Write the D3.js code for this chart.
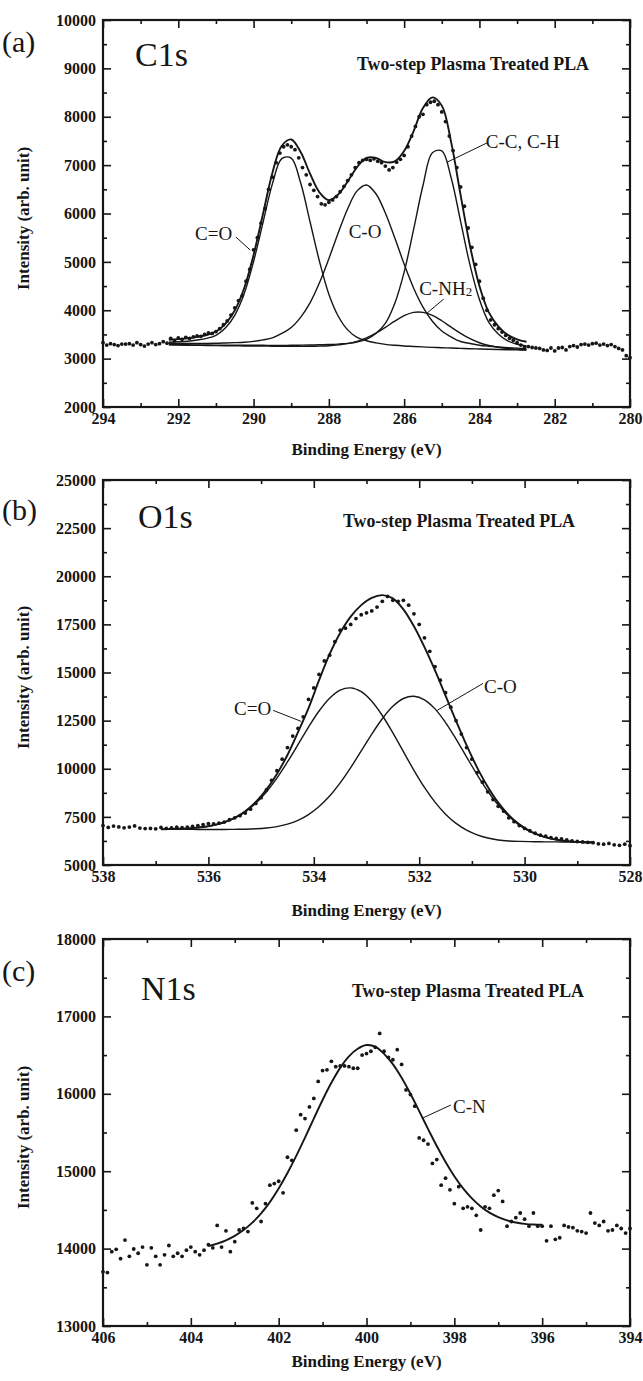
<!DOCTYPE html>
<html><head><meta charset="utf-8">
<script src="https://cdn.jsdelivr.net/npm/d3@7"></script>
<style>
body{margin:0;background:#fff}
svg{display:block}
text{font-family:"Liberation Serif","Times New Roman",serif;fill:#161616}
</style>
</head><body>
<svg id="chart" width="643" height="1381"></svg>
<script>
// ---------------- Panel (a) C1s ----------------
const c1sXTicks = [294,292,290,288,286,284,282,280];
const c1sXMinor = [293,291,289,287,285,283,281];
const c1sYTicks = [2000,3000,4000,5000,6000,7000,8000,9000,10000];
const c1sYMinor = [2500,3500,4500,5500,6500,7500,8500,9500];
const c1sFitE = [292.25,292.0,291.75,291.5,291.25,291.0,290.75,290.5,290.25,290.0,289.75,289.5,289.25,289.0,288.75,288.5,288.25,288.0,287.75,287.5,287.25,287.0,286.75,286.5,286.25,286.0,285.75,285.5,285.25,285.0,284.75,284.5,284.25,284.0,283.75,283.5,283.25,283.0,282.75];
const c1sEnvelope = [3390,3403,3418,3449,3488,3558,3719,3996,4454,5145,5988,6839,7400,7530,7270,6823,6438,6275,6395,6661,6960,7148,7151,7061,7077,7291,7700,8180,8400,8230,7470,6381,5329,4503,3956,3669,3491,3400,3349];
const c1sCdO = [3340,3348,3359,3384,3418,3482,3631,3895,4339,5007,5810,6612,7135,7144,6634,5829,5013,4331,3876,3594,3439,3369,3326,3295,3276,3262,3252,3242,3232,3225,3219,3212,3205,3200,3195,3190,3185,3180,3175];
const c1sCO = [3312,3313,3314,3316,3315,3317,3323,3330,3339,3356,3388,3430,3521,3644,3854,4154,4567,5065,5601,6099,6468,6590,6408,6012,5499,4954,4461,4066,3772,3570,3449,3354,3312,3277,3256,3240,3227,3217,3207];
const c1sCC = [3291,3289,3286,3284,3281,3279,3278,3277,3276,3275,3275,3273,3274,3276,3278,3281,3286,3291,3300,3315,3344,3400,3520,3729,4140,4788,5665,6579,7255,7294,6734,5838,4934,4223,3750,3511,3367,3297,3262];
const c1sCNH2 = [3284,3281,3278,3275,3272,3269,3267,3265,3262,3260,3259,3256,3255,3254,3254,3255,3259,3266,3284,3310,3357,3428,3527,3646,3774,3887,3955,3957,3894,3783,3650,3523,3412,3328,3271,3235,3210,3195,3182];
const c1sDots = [[294.0,3330],[293.9,3280],[293.8,3310],[293.7,3290],[293.6,3270],[293.5,3300],[293.4,3300],[293.3,3310],[293.2,3280],[293.1,3330],[293.0,3290],[292.9,3260],[292.8,3300],[292.7,3330],[292.6,3290],[292.5,3310],[292.4,3350],[292.3,3320],[292.2,3420],[292.1,3370],[292.0,3430],[291.9,3400],[291.8,3440],[291.7,3420],[291.6,3450],[291.5,3470],[291.4,3460],[291.3,3500],[291.2,3530],[291.1,3520],[291.0,3560],[290.9,3620],[290.8,3700],[290.7,3780],[290.6,3900],[290.5,4050],[290.4,4200],[290.3,4300],[290.2,4600],[290.1,4850],[290.0,5250],[289.9,5500],[289.8,5800],[289.7,6100],[289.6,6500],[289.5,6750],[289.4,7050],[289.3,7250],[289.2,7380],[289.1,7420],[289.0,7380],[288.9,7320],[288.8,7150],[288.7,6950],[288.6,6800],[288.5,6600],[288.4,6480],[288.3,6350],[288.2,6200],[288.1,6180],[288.0,6230],[287.9,6280],[287.8,6350],[287.7,6450],[287.6,6560],[287.5,6680],[287.4,6800],[287.3,6950],[287.2,7050],[287.1,7100],[287.0,7120],[286.9,7100],[286.8,7130],[286.7,7080],[286.6,7050],[286.5,6980],[286.4,6900],[286.3,6950],[286.2,7060],[286.1,7120],[286.0,7200],[285.9,7380],[285.8,7600],[285.7,7800],[285.6,8000],[285.5,8050],[285.4,8250],[285.3,8300],[285.2,8320],[285.1,8250],[285.0,8100],[284.9,7900],[284.8,7600],[284.7,7300],[284.6,6950],[284.5,6550],[284.4,6150],[284.3,5700],[284.2,5300],[284.1,4950],[284.0,4600],[283.9,4250],[283.8,4000],[283.7,3800],[283.6,3700],[283.5,3620],[283.4,3550],[283.3,3480],[283.2,3420],[283.1,3380],[283.0,3330],[282.9,3280],[282.8,3240],[282.7,3250],[282.6,3230],[282.5,3220],[282.4,3210],[282.3,3180],[282.2,3170],[282.1,3220],[282.0,3160],[281.9,3220],[281.8,3230],[281.7,3180],[281.6,3250],[281.5,3270],[281.4,3240],[281.3,3290],[281.2,3300],[281.1,3280],[281.0,3310],[280.9,3320],[280.8,3280],[280.7,3300],[280.6,3270],[280.5,3290],[280.4,3250],[280.3,3210],[280.2,3180],[280.1,3060],[280.0,3020]];

// ---------------- Panel (b) O1s ----------------
const o1sXTicks = [538,536,534,532,530,528];
const o1sXMinor = [537,535,533,531,529];
const o1sYTicks = [5000,7500,10000,12500,15000,17500,20000,22500,25000];
const o1sYMinor = [6250,8750,11250,13750,16250,18750,21250,23750];
const o1sFitE = [536.9,536.7,536.5,536.3,536.1,535.9,535.7,535.5,535.3,535.1,534.9,534.7,534.5,534.3,534.1,533.9,533.7,533.5,533.3,533.1,532.9,532.7,532.5,532.3,532.1,531.9,531.7,531.5,531.3,531.1,530.9,530.7,530.5,530.3,530.1,529.9,529.7,529.5,529.3,529.1,528.9,528.7];
const o1sEnvelope = [6858,6868,6886,6917,6972,7068,7220,7456,7798,8279,8918,9729,10715,11900,13150,14600,15950,17050,17900,18500,18880,19020,18850,18280,17400,16316,15106,13798,12480,11212,10061,9064,8239,7595,7110,6764,6526,6371,6273,6216,6185,6167];
const o1sCdO = [6858,6868,6886,6916,6971,7064,7212,7439,7763,8213,8796,9514,10352,11255,12167,12998,13662,14082,14200,14002,13506,12766,11863,10887,9920,9030,8264,7638,7160,6808,6563,6401,6300,6250,6225,6212,6205,6200,6198,6196,6195,6195];
const o1sCO = [6850,6850,6850,6849,6847,6847,6847,6852,6860,6881,6922,6995,7123,7321,7618,8034,8580,9263,10058,10924,11800,12600,13242,13650,13768,13582,13110,12400,11542,10608,9688,8843,8114,7527,7074,6746,6518,6367,6273,6216,6185,6167];
const o1sDots = [[538.0,7050],[537.9,6950],[537.8,7020],[537.7,6980],[537.6,6930],[537.5,6970],[537.4,7030],[537.3,6920],[537.2,6890],[537.1,6900],[537.0,6880],[536.9,6950],[536.8,6900],[536.7,6930],[536.6,6960],[536.5,6940],[536.4,6970],[536.3,7000],[536.2,7050],[536.1,7100],[536.0,7150],[535.9,7130],[535.8,7180],[535.7,7230],[535.6,7350],[535.5,7450],[535.4,7560],[535.3,7700],[535.2,7900],[535.1,8200],[535.0,8500],[534.9,8900],[534.8,9400],[534.7,9900],[534.6,10500],[534.5,11100],[534.4,11700],[534.3,12100],[534.2,12700],[534.1,13600],[534.0,14200],[533.9,14900],[533.8,15600],[533.7,15900],[533.6,16600],[533.5,17200],[533.4,17300],[533.3,17500],[533.2,17800],[533.1,18000],[533.0,18100],[532.9,18200],[532.8,18400],[532.7,18700],[532.6,18950],[532.5,18750],[532.4,18700],[532.3,18750],[532.2,18500],[532.1,18050],[532.0,17500],[531.9,16800],[531.8,16100],[531.7,15300],[531.6,14600],[531.5,13950],[531.4,13200],[531.3,12500],[531.2,11800],[531.1,11100],[531.0,10500],[530.9,9800],[530.8,9300],[530.7,8800],[530.6,8400],[530.5,8050],[530.4,7800],[530.3,7450],[530.2,7250],[530.1,7050],[530.0,6900],[529.9,6780],[529.8,6650],[529.7,6550],[529.6,6500],[529.5,6420],[529.4,6380],[529.3,6350],[529.2,6300],[529.1,6250],[529.0,6220],[528.9,6200],[528.8,6180],[528.7,6160],[528.6,6100],[528.5,6080],[528.4,6120],[528.3,6050],[528.2,6020],[528.1,6080],[528.0,6000]];

// ---------------- Panel (c) N1s ----------------
const n1sXTicks = [406,404,402,400,398,396,394];
const n1sXMinor = [405,403,401,399,397,395];
const n1sYTicks = [13000,14000,15000,16000,17000,18000];
const n1sYMinor = [13500,14500,15500,16500,17500];
const n1sFitE = [403.6,403.4,403.2,403.0,402.8,402.6,402.4,402.2,402.0,401.8,401.6,401.4,401.2,401.0,400.8,400.6,400.4,400.2,400.0,399.8,399.6,399.4,399.2,399.0,398.8,398.6,398.4,398.2,398.0,397.8,397.6,397.4,397.2,397.0,396.8,396.6,396.4,396.2,396.0];
const n1sCN = [14031,14064,14107,14165,14239,14335,14455,14601,14776,14976,15197,15435,15680,15920,16142,16335,16484,16582,16630,16610,16516,16383,16206,16000,15776,15547,15325,15120,14936,14778,14648,14544,14464,14406,14364,14337,14320,14311,14308];
const n1sDots = [[406.0,13700],[405.9,13690],[405.8,13960],[405.7,13990],[405.6,13870],[405.5,14110],[405.4,13900],[405.3,13995],[405.2,13940],[405.1,14020],[405.0,13790],[404.9,14010],[404.8,13900],[404.7,13790],[404.6,13920],[404.5,14040],[404.4,13900],[404.3,13940],[404.2,13900],[404.1,13980],[404.0,14020],[403.9,13960],[403.8,13920],[403.7,13980],[403.6,14050],[403.5,14010],[403.4,14300],[403.3,14020],[403.2,14230],[403.1,13960],[403.0,14090],[402.9,14240],[402.8,14260],[402.7,14220],[402.6,14590],[402.5,14520],[402.4,14350],[402.3,14580],[402.2,14820],[402.1,14840],[402.0,14870],[401.9,14720],[401.8,15180],[401.7,15140],[401.6,15530],[401.5,15730],[401.4,15680],[401.3,15830],[401.2,15940],[401.1,16160],[401.0,16300],[400.9,16310],[400.8,16420],[400.7,16350],[400.6,16360],[400.5,16360],[400.4,16350],[400.3,16330],[400.2,16330],[400.1,16500],[400.0,16520],[399.9,16550],[399.8,16600],[399.7,16780],[399.6,16550],[399.5,16470],[399.4,16440],[399.3,16570],[399.2,16380],[399.1,16050],[399.0,15990],[398.9,15840],[398.8,15430],[398.7,15400],[398.6,15350],[398.5,15100],[398.4,15150],[398.3,14820],[398.2,14910],[398.1,14760],[398.0,14580],[397.9,14800],[397.8,14520],[397.7,14540],[397.6,14520],[397.5,14430],[397.4,14240],[397.3,14540],[397.2,14520],[397.1,14690],[397.0,14750],[396.9,14610],[396.8,14290],[396.7,14350],[396.6,14400],[396.5,14460],[396.4,14380],[396.3,14290],[396.2,14460],[396.1,14290],[396.0,14290],[395.9,14100],[395.8,14290],[395.7,14120],[395.6,14140],[395.5,14300],[395.4,14280],[395.3,14270],[395.2,14230],[395.1,14220],[395.0,14200],[394.9,14460],[394.8,14330],[394.7,14300],[394.6,14350],[394.5,14230],[394.4,14240],[394.3,14300],[394.2,14260],[394.1,14200],[394.0,14260]];

// ---------------- Texts ----------------
const panelTags = ["(a)","(b)","(c)"];
const panelNames = ["C1s","O1s","N1s"];
const subtitle = "Two-step Plasma Treated PLA";
const xTitle = "Binding Energy (eV)";
const yTitle = "Intensity (arb. unit)";

// ---------------- Build ----------------
const svg = d3.select("#chart");
const X0 = 103, X1 = 630;
const ink = "#161616";

const panels = [
  {top:20, bottom:407, xDom:[294,280], yDom:[2000,10000], xT:c1sXTicks, xM:c1sXMinor, yT:c1sYTicks, yM:c1sYMinor,
   dots:c1sDots, fitE:c1sFitE, curves:[c1sEnvelope,c1sCdO,c1sCO,c1sCC,c1sCNH2],
   tagY:52, nameX:135, nameY:66, subX:357, subY:70, xTitleY:455,
   labels:[
     {t:"C=O", E:290.57, I:5450, anchor:"end", line:[[290.47,5514],[290.09,5245]]},
     {t:"C-O", E:287.04, I:5500, anchor:"middle"},
     {t:"C-NH", sub:"2", E:285.6, I:4320, anchor:"start", line:[[284.95,4230],[285.4,3935]]},
     {t:"C-C, C-H", E:283.83, I:7350, anchor:"start", line:[[283.77,7470],[284.86,7060]]}
   ]},
  {top:480, bottom:865, xDom:[538,528], yDom:[5000,25000], xT:o1sXTicks, xM:o1sXMinor, yT:o1sYTicks, yM:o1sYMinor,
   dots:o1sDots, fitE:o1sFitE, curves:[o1sEnvelope,o1sCdO,o1sCO],
   tagY:520, nameX:138, nameY:528, subX:343, subY:527, xTitleY:916,
   labels:[
     {t:"C=O", E:534.81, I:12772, anchor:"end", line:[[534.77,13031],[534.24,12461]]},
     {t:"C-O", E:530.77, I:13912, anchor:"start", line:[[530.79,14430],[531.66,13031]]}
   ]},
  {top:939, bottom:1326, xDom:[406,394], yDom:[13000,18000], xT:n1sXTicks, xM:n1sXMinor, yT:n1sYTicks, yM:n1sYMinor,
   dots:n1sDots, fitE:n1sFitE, curves:[n1sCN],
   tagY:981, nameX:141, nameY:1000, subX:352, subY:997, xTitleY:1367,
   labels:[
     {t:"C-N", E:398.03, I:15752, anchor:"start", line:[[398.08,15855],[398.72,15687]]}
   ]}
];

panels.forEach((p, i) => {
  const x = d3.scaleLinear().domain(p.xDom).range([X0, X1]);
  const y = d3.scaleLinear().domain(p.yDom).range([p.bottom, p.top]);
  const g = svg.append("g");

  function axis(gen, scale, vals, size, fmt, tr) {
    const a = g.append("g").attr("transform", tr)
      .call(gen(scale).tickValues(vals).tickSize(size).tickSizeOuter(0).tickPadding(size === -8 ? 6 : 3).tickFormat(fmt));
    a.attr("font-size", null).attr("font-family", null);
    a.select(".domain").remove();
    a.selectAll(".tick line").attr("stroke", ink).attr("stroke-width", 1.6);
    a.selectAll("text").attr("fill", ink).style("font-size", "16px").style("font-weight", "bold");
    return a;
  }
  const fmt = d3.format("d");
  axis(d3.axisBottom, x, p.xT, -8, fmt, `translate(0,${p.bottom})`);
  axis(d3.axisBottom, x, p.xM, -4, () => "", `translate(0,${p.bottom})`);
  axis(d3.axisTop, x, p.xT, -8, () => "", `translate(0,${p.top})`);
  axis(d3.axisTop, x, p.xM, -4, () => "", `translate(0,${p.top})`);
  const la = axis(d3.axisLeft, y, p.yT, -8, fmt, `translate(${X0},0)`);
  la.selectAll("text").attr("x", -7);
  axis(d3.axisLeft, y, p.yM, -4, () => "", `translate(${X0},0)`);
  axis(d3.axisRight, y, p.yT, -8, () => "", `translate(${X1},0)`);
  axis(d3.axisRight, y, p.yM, -4, () => "", `translate(${X1},0)`);

  g.append("rect").attr("x", X0).attr("y", p.top).attr("width", X1 - X0).attr("height", p.bottom - p.top)
    .attr("fill", "none").attr("stroke", ink).attr("stroke-width", 2.2);

  // fitted curves
  const line = d3.line().x((d) => x(d[0])).y((d) => y(d[1])).curve(d3.curveCatmullRom.alpha(0.5));
  p.curves.forEach((vals, k) => {
    g.append("path").datum(p.fitE.map((e, j) => [e, vals[j]]))
      .attr("d", line).attr("fill", "none").attr("stroke", ink)
      .attr("stroke-width", k === 0 ? 1.9 : 1.4).attr("stroke-linejoin", "round");
  });

  // data points
  g.append("g").selectAll("circle").data(p.dots).join("circle")
    .attr("cx", (d) => x(d[0])).attr("cy", (d) => y(d[1])).attr("r", 1.9).attr("fill", ink);

  // annotations
  p.labels.forEach((l) => {
    if (l.line) {
      g.append("line").attr("x1", x(l.line[0][0])).attr("y1", y(l.line[0][1]))
        .attr("x2", x(l.line[1][0])).attr("y2", y(l.line[1][1]))
        .attr("stroke", ink).attr("stroke-width", 1);
    }
    const t = g.append("text").attr("x", x(l.E)).attr("y", y(l.I)).attr("text-anchor", l.anchor)
      .style("font-size", "19px").text(l.t);
    if (l.sub) t.append("tspan").attr("dy", 1).style("font-size", "13px").text(l.sub);
  });

  // panel texts
  g.append("text").attr("x", 2).attr("y", p.tagY).style("font-size", "30px").text(panelTags[i]);
  g.append("text").attr("x", p.nameX).attr("y", p.nameY).style("font-size", "34px").text(panelNames[i]);
  g.append("text").attr("x", p.subX).attr("y", p.subY).style("font-size", "18px").style("font-weight", "bold")
    .attr("textLength", 232).attr("lengthAdjust", "spacingAndGlyphs").text(subtitle);
  g.append("text").attr("x", (X0 + X1) / 2).attr("y", p.xTitleY).attr("text-anchor", "middle")
    .style("font-size", "17px").style("font-weight", "bold").text(xTitle);
  g.append("text").attr("transform", `translate(29,${(p.top + p.bottom) / 2 + 5}) rotate(-90)`)
    .attr("text-anchor", "middle").style("font-size", "17px").style("font-weight", "bold").text(yTitle);
});
</script>
</body></html>
